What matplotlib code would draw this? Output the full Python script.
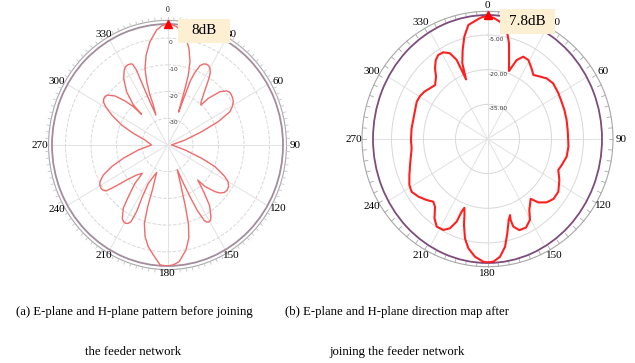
import numpy as np
import matplotlib.pyplot as plt
from matplotlib.patches import Rectangle
from matplotlib.transforms import offset_copy

# (a) pattern before joining the feeder network, angle [deg] / gain [dB]
ang_a = [0, 2.3, 4.6, 7, 9.5, 13.1, 15.8, 17.3, 18, 18.5, 19.5, 20, 20.5, 21.5, 23.2, 25,
         26.9, 28.5, 30.1, 31.8, 33.1, 35.5, 39.4, 41.2, 42.5, 45.9, 48.9, 51, 53.4, 55.5,
         57.9, 60.5, 63, 66.3, 69.6, 75, 89,
         105, 110.4, 113.5, 117.5, 120, 122.7, 125.5, 128.6, 131, 133.2, 136.6, 137.9, 141,
         144, 147.5, 149, 150.5, 152, 153, 154.5, 155.5, 156.5, 157.5, 161, 163, 164.5,
         166.5, 169.5, 174, 177, 180,
         183.7, 187.7, 191.2, 194.4, 197.2, 198.6, 199.4, 202.6, 207.6, 207, 205.9, 206.5,
         207.8, 209.2, 211, 212.8, 216.2, 218.4, 221.6, 223, 227.1, 230.8, 232.9, 234.4, 236,
         238.1, 240.5, 242.6, 245.9, 249.7, 254, 260.8, 270, 281.9, 288, 292.6, 297.2, 300.6,
         302.5, 304.5, 306.5, 308.4, 311.7, 314.7, 317, 318.5, 318.2, 321.2, 325.4, 328.9,
         330.7, 332.4, 334, 335.6, 336.5, 336.6, 336.8, 337.5, 338, 339.6, 339.8, 341, 342.9,
         346, 349.9, 354.4, 357.2, 360]
gain_a = [5.3, 5.1, 4.4, 3.3, 1.8, -2.9, -7.6, -12.5, -17.8, -22.8, -26.9, -21.9, -14.3,
          -11.0, -7.7, -6.5, -6.1, -6.2, -6.8, -8.2, -10.2, -14.7, -19.3, -20.1, -16.3, -11.3,
          -9.2, -8.6, -8.7, -9.0, -9.5, -10.8, -12.5, -18.3, -25.7, -32.9, -38.4,
          -32.9, -25.7, -19.7, -14.9, -12.6, -11.5, -11.1, -11.5, -12.6, -14.5, -18.6, -22.3,
          -17.4, -11.9, -8.3, -7.2, -6.9, -7.3, -8.3, -12.8, -18.7, -24.6, -30.0, -23.7,
          -16.0, -9.2, -4.2, -0.1, 3.9, 4.9, 5.3,
          5.0, 1.5, -1.2, -4.6, -9.3, -15.6, -22.2, -28.9, -23.8, -18.3, -12.3, -7.9,
          -6.8, -6.4, -6.5, -7.3, -10.6, -15.3, -20.8, -25.5, -23.5, -19.3, -14.2, -10.6,
          -9.6, -9.3, -9.5, -10.2, -12.4, -16.7, -22.0, -28.4, -33.7, -31.0, -25.9, -20.5,
          -15.4, -11.8, -10.3, -9.6, -9.5, -9.9, -12.4, -16.5, -20.4, -24.7, -19.9, -14.4,
          -9.7, -7.2, -6.4, -6.2, -6.3, -6.7, -9.2, -14.2, -21.0, -26.4, -27.9, -24.0, -20.1,
          -15.0, -10.0, -5.3, -0.7, 3.3, 4.7, 5.3]

# (b) pattern after joining the feeder network
ang_b = [0, 3, 6.6, 10.8, 13.7, 15.8, 18.9, 21.8, 25.2, 29.3, 34.1, 37.8, 42.4, 46.6, 52,
         59.3, 65.1, 70.8, 77.5, 84, 91.8, 95, 101.6, 108, 112, 117.8, 124.5, 130, 134.7,
         139, 142, 147.5, 150.4, 154.8, 159.3, 162.3, 162.8, 162.2, 164.2, 167.2, 170,
         173.4, 177, 180, 182.1, 186.6, 190.7, 193.8, 196.5, 198.2, 200, 201.1, 202, 204.5,
         207.7, 212.1, 215.9, 220, 223.1, 227.2, 232.4, 237.3, 241.5, 247, 254.8, 263.5,
         269.3, 277.4, 283.3, 290.3, 295.9, 300.5, 304.7, 309.2, 313.5, 318.2, 321.2, 324.6,
         327.6, 331.1, 334.6, 337.1, 337.9, 338.7, 340.2, 343.2, 346.2, 349.7, 354.4, 357,
         360]
gain_b = [3.2, 2.6, 1.1, -1.9, -7.4, -12.9, -18.9, -13.2, -10.6, -10.8, -13.1, -14.9, -13.4,
          -11.8, -10.9, -11.3, -11.7, -11.8, -12.0, -12.2, -12.1, -11.9, -12.1, -13.4, -14.2,
          -11.9, -9.7, -9.6, -11.0, -13.6, -17.1, -13.5, -9.7, -7.6, -7.8, -10.2, -13.3,
          -15.4, -13.5, -8.1, -2.6, 1.3, 3.2, 3.4, 3.2, 1.3, -1.8, -5.7, -11.2, -15.4, -18.3,
          -16.3, -11.4, -7.5, -5.5, -5.2, -7.6, -11.7, -12.8, -11.1, -9.1, -7.7, -8.3, -10.2,
          -12.5, -14.2, -14.1, -14.1, -14.2, -13.8, -13.1, -13.3, -14.0, -15.2, -16.1, -13.8,
          -10.7, -8.1, -6.9, -7.1, -8.9, -12.8, -17.8, -22.3, -15.1, -9.7, -4.4, 0.2, 1.8,
          2.8, 3.2]

rt_a = [-30, -20, -10, 0]
rt_a_lab = ['-30', '-20', '-10', '0']
rt_b = [-35, -20, -5]
rt_b_lab = ['-35.00', '-20.00', '-5.00']
ang_lab = ['0', '30', '60', '90', '120', '150', '180', '210', '240', '270', '300', '330']

serif = 'Liberation Serif'
fig = plt.figure(figsize=(6.35, 3.63), dpi=100)


def polar_panel(rect, rlim, rticks, rlabels, ang, gain, ring_col, curve_col, curve_lw,
                grid_ls, lab_r, ring_k, inward):
    ax = fig.add_axes(rect, projection='polar')
    ax.set_aspect('auto')
    ax.set_theta_zero_location('N')
    ax.set_theta_direction(-1)
    ax.set_rlim(*rlim)
    ax.set_thetagrids(range(0, 360, 30), labels=[''] * 12)
    ax.set_rgrids(rticks, labels=[''] * len(rticks))
    ax.xaxis.grid(True, color='#e2e2e2', lw=0.7, ls='-')
    ax.yaxis.grid(True, color='#d8d8d8', lw=0.7, ls=grid_ls)
    ax.tick_params(length=0)
    ax.spines['polar'].set_color(ring_col)
    ax.spines['polar'].set_linewidth(1.3)
    ax.plot(np.radians(ang), gain, color=curve_col, lw=curve_lw, zorder=5)
    ax.plot(0, rlim[1], marker='^', color='red', ms=6, clip_on=False, zorder=6)

    # outer gray dial
    w = rect[2] * 635
    h = rect[3] * 363
    phi = np.linspace(0, 2 * np.pi, 400)
    kx, ky = ring_k
    ax.plot(0.5 + 0.5 * kx * np.sin(phi), 0.5 + 0.5 * ky * np.cos(phi), color='#a8a8a8',
            lw=0.8, transform=ax.transAxes, clip_on=False)
    step = 5 if inward else 3
    for a in np.radians(np.arange(0, 360, step)):
        d = -4 if inward else 3
        x0 = 0.5 + 0.5 * kx * np.sin(a)
        y0 = 0.5 + 0.5 * ky * np.cos(a)
        ax.plot([x0, x0 + d * np.sin(a) / w], [y0, y0 + d * np.cos(a) / h],
                color='#a8a8a8' if inward else '#c4c4c4', lw=0.6,
                transform=ax.transAxes, clip_on=False)

    # angle labels
    for i, s in enumerate(ang_lab):
        a = np.radians(30 * i)
        r = lab_r
        fs = 8
        if i == 0 and not inward:
            r, fs = 135, 5.5
        x = 0.5 + r * np.sin(a) / w
        y = 0.5 + r * np.cos(a) / h
        ax.text(x, y, s, transform=ax.transAxes, ha='center', va='center',
                fontsize=fs, family=serif, color='black', clip_on=False)

    # radial labels
    tr = offset_copy(ax.transData, fig=fig, x=1, y=-2, units='dots')
    for v, s in zip(rticks, rlabels):
        ax.text(0, v, s, transform=tr, ha='left', va='top', fontsize=4.3,
                color='#333333', zorder=4)
    return ax


polar_panel([52 / 635, 1 - 266 / 363, 231 / 635, 242 / 363], (-40, 5.3), rt_a, rt_a_lab,
            ang_a, gain_a, '#a38c9c', '#f26a6a', 1.0, '--', 128, (1.03, 1.03), False)
polar_panel([373 / 635, 1 - 263 / 363, 229 / 635, 248 / 363], (-50, 3.7), rt_b, rt_b_lab,
            ang_b, gain_b, '#7d4c7d', '#ff1f1f', 1.5, '-', 134, (1.096, 1.03), True)

# value boxes
for (x0, y0, x1, y1), s in [((178, 19, 230, 43), '8dB'), ((500, 9, 555, 34), '7.8dB')]:
    fig.patches.append(Rectangle((x0 / 635, 1 - y1 / 363), (x1 - x0) / 635, (y1 - y0) / 363,
                                 transform=fig.transFigure, facecolor='#fcefd2',
                                 edgecolor='none', zorder=10))
    fig.text((x0 + x1) / 2 / 635, 1 - (y0 + y1) / 2 / 363, s, ha='center', va='center',
             fontsize=11, family=serif, zorder=11)

# captions
fig.text(134 / 635, 1 - 312 / 363, '(a) E-plane and H-plane pattern before joining',
         ha='center', va='center', fontsize=9.2, family=serif)
fig.text(133 / 635, 1 - 352 / 363, 'the feeder network', ha='center', va='center',
         fontsize=9.2, family=serif)
fig.text(397 / 635, 1 - 312 / 363, '(b) E-plane and H-plane direction map after',
         ha='center', va='center', fontsize=9.2, family=serif)
fig.text(397.5 / 635, 1 - 352 / 363, 'joining the feeder network', ha='center', va='center',
         fontsize=9.2, family=serif)

fig.savefig('out.png', dpi=100)
